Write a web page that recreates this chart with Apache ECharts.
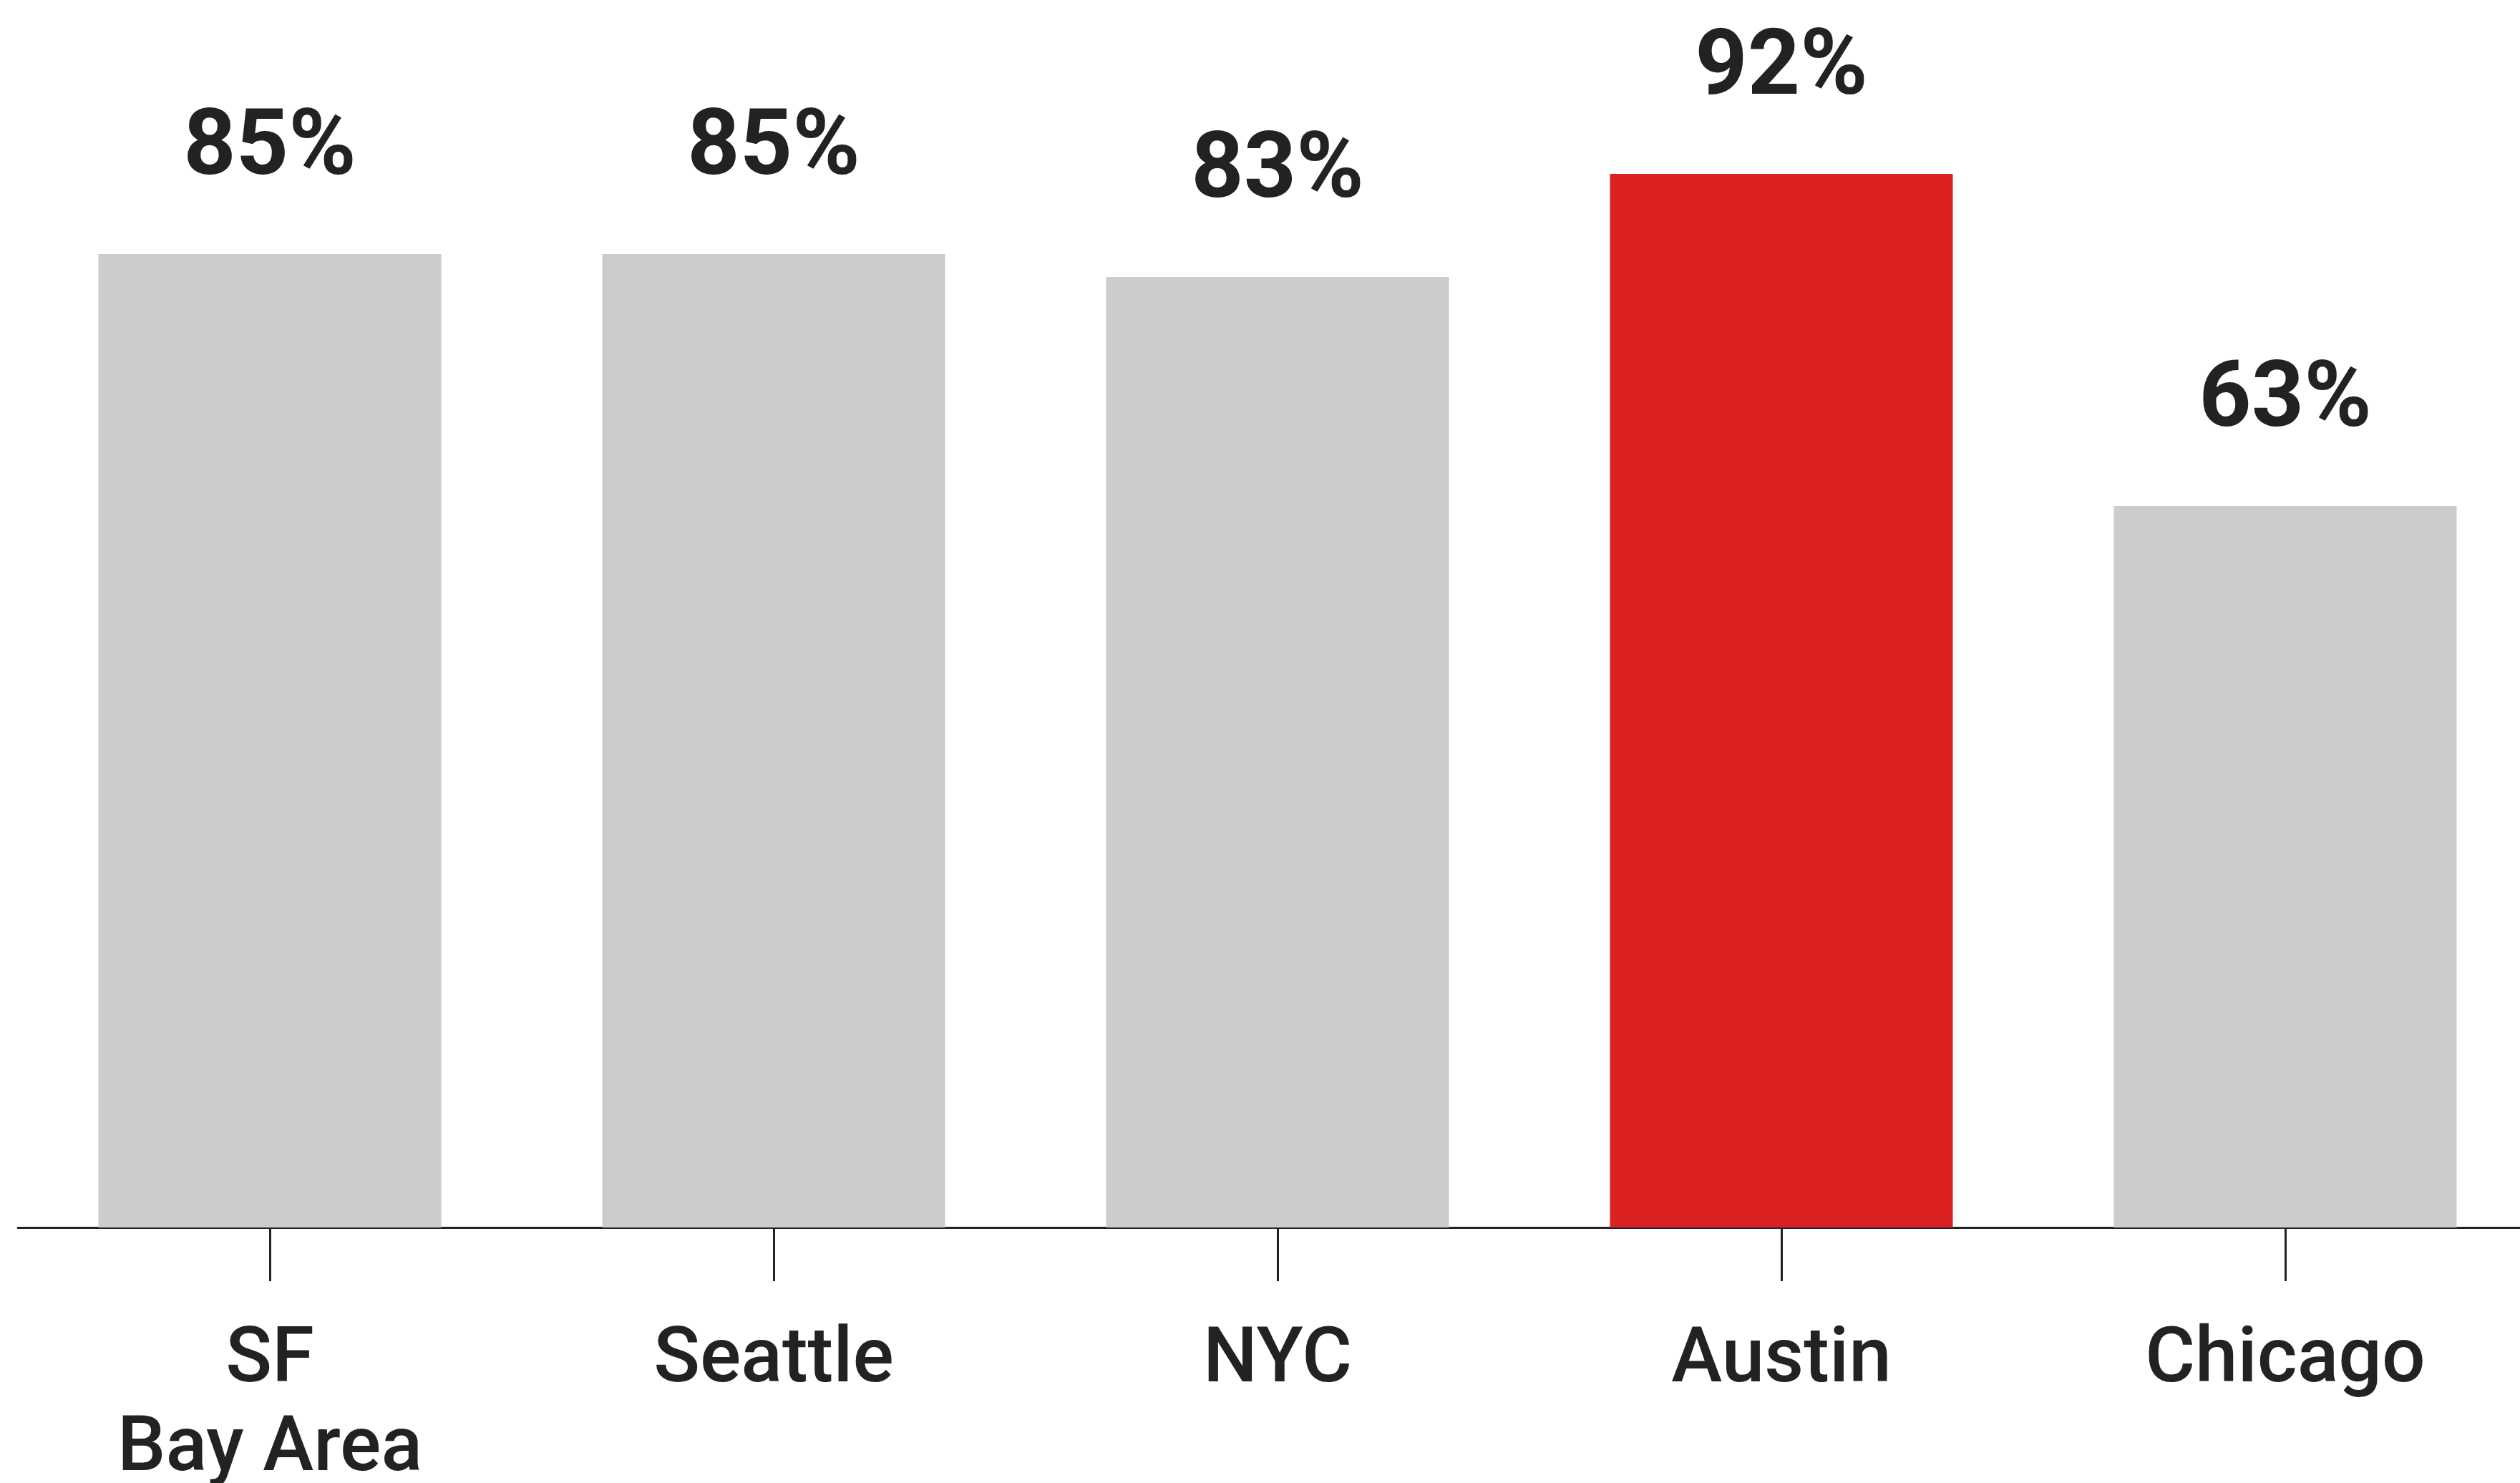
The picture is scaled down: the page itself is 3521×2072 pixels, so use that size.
<!DOCTYPE html>
<html>
<head>
<meta charset="utf-8">
<script src="https://cdn.jsdelivr.net/npm/echarts@6/dist/echarts.min.js"></script>
<style>
  html, body { margin: 0; padding: 0; background: #fff; }
  #chart { width: 3521px; height: 2072px; }
</style>
</head>
<body>
<div id="chart"></div>
<script>
var cities = ['SF\nBay Area', 'Seattle', 'NYC', 'Austin', 'Chicago'];
var shares = [85, 85, 83, 92, 63];
var highlightCity = 'Austin';

var grey = '#cccccc';
var red = '#dc2123';
var ink = '#222222';

var barData = [];
for (var i = 0; i < shares.length; i++) {
    barData.push({
        value: shares[i],
        itemStyle: { color: cities[i] === highlightCity ? red : grey }
    });
}

var myChart = echarts.init(document.getElementById('chart'));
myChart.setOption({
    backgroundColor: '#ffffff',
    animation: false,
    grid: { left: 25, width: 3520, top: 115, bottom: 357, containLabel: false, outerBoundsMode: 'none' },
    xAxis: {
        type: 'category',
        data: cities,
        axisLine: { show: true, lineStyle: { color: ink, width: 3 } },
        axisTick: { show: true, alignWithLabel: true, length: 75, lineStyle: { color: ink, width: 3 } },
        axisLabel: {
            margin: 126,
            color: ink,
            fontFamily: 'Roboto',
            fontWeight: 500,
            fontSize: 107,
            lineHeight: 124
        }
    },
    yAxis: {
        type: 'value',
        min: 0,
        max: 100,
        show: false,
        splitLine: { show: false }
    },
    series: [{
        type: 'bar',
        data: barData,
        barWidth: 479,
        label: {
            show: true,
            position: 'top',
            distance: 80,
            formatter: '{c}%',
            color: ink,
            fontFamily: 'Roboto',
            fontWeight: 'bold',
            fontSize: 128
        }
    }]
});
</script>
</body>
</html>
